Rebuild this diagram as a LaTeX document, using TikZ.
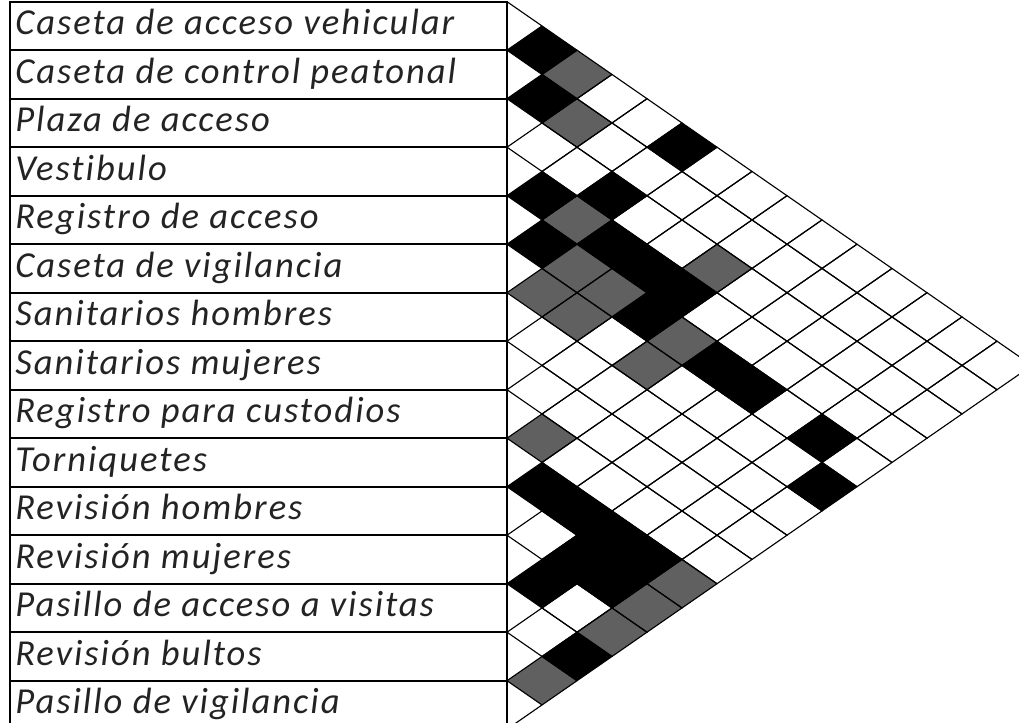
\documentclass[tikz,border=0pt]{standalone}
\usepackage{fontspec}
\setmainfont{Carlito}[Ligatures={NoCommon}]
\definecolor{relgray}{RGB}{96,96,96}
\definecolor{labelink}{RGB}{35,35,35}
\tikzset{
  rowbox/.style={draw=black, line width=1.3pt},
  rowlabel/.style={anchor=base west, inner sep=0pt, text=labelink, font=\fontsize{26}{28}\selectfont\itshape\addfontfeature{LetterSpace=5.5}},
  cellgrid/.style={draw=black, line width=0.8pt},
  relstrong/.style={fill=black},
  relweak/.style={fill=relgray},
}
% one diamond of the matrix: style, row i, row j
\newcommand{\relcell}[3]{%
  \pgfmathsetmacro\cellx{507+35*(#3-#2)}%
  \pgfmathsetmacro\celly{1.7+24.25*(#2+#3-1)}%
  \path[#1] (\cellx-35,\celly) -- (\cellx,\celly-24.25) -- (\cellx+35,\celly) -- (\cellx,\celly+24.25) -- cycle;%
}

\begin{document}
\begin{tikzpicture}[x=0.025cm, y=-0.025cm]
  \useasboundingbox (0,0) rectangle (1019,723);
  \clip (0,0) rectangle (1019,723);

  %% Row labels
  \foreach \name [count=\i] in {Caseta de acceso vehicular, Caseta de control peatonal, Plaza de acceso, Vestibulo, Registro de acceso, Caseta de vigilancia, Sanitarios hombres, Sanitarios mujeres, Registro para custodios, Torniquetes, Revisión hombres, Revisión mujeres, Pasillo de acceso a visitas, Revisión bultos, Pasillo de vigilancia}{
    \draw[rowbox] (10,{1.7+48.5*(\i-1)}) rectangle (507,{1.7+48.5*\i});
    \node[rowlabel] (lab\i) at (15,{1.7+48.5*\i-15.5}) {\name};
  }

  %% Strong relations (black)
  \foreach \i/\j in {1/2,2/3,1/6,4/5,3/6,5/6,4/7,4/8,4/9,5/9,5/11,5/12,5/14,6/15,10/11,10/12,10/13,10/14,11/13,11/14,12/13,13/15}{
    \relcell{relstrong}{\i}{\j}
  }

  %% Weak relations (gray)
  \foreach \i/\j in {1/3,2/4,4/6,3/9,5/7,6/7,5/8,6/8,5/10,6/10,9/10,10/15,11/15,12/15,14/15}{
    \relcell{relweak}{\i}{\j}
  }

  %% Grid of the matrix
  \foreach \i in {1,...,14}{
    \pgfmathtruncatemacro\jfirst{\i+1}
    \foreach \j in {\jfirst,...,15}{
      \relcell{cellgrid}{\i}{\j}
    }
  }
  \draw[cellgrid] (507,1.7) -- (542,25.95);
  \draw[cellgrid] (507,729.2) -- (542,704.95);
\end{tikzpicture}
\end{document}
